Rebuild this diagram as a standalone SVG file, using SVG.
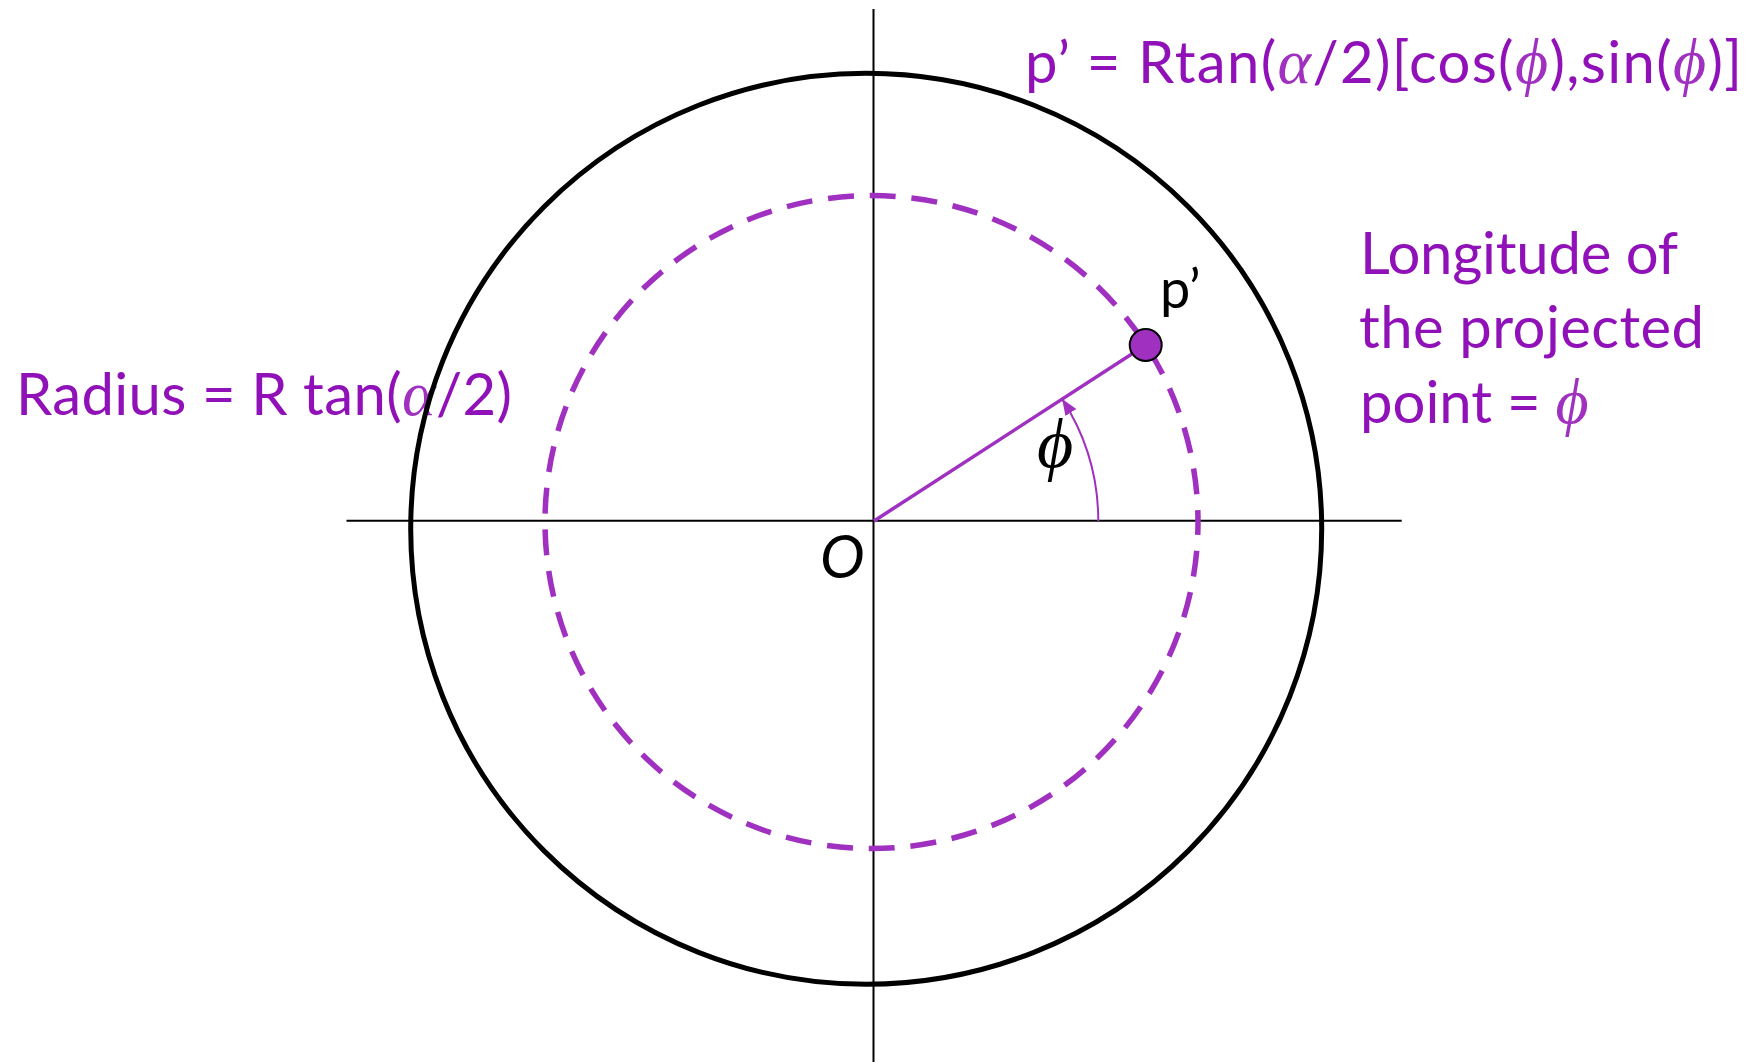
<svg xmlns="http://www.w3.org/2000/svg" width="1758" height="1062" viewBox="0 0 1758 1062">
<style>
.lbl{font-family:Lato,"Liberation Sans",sans-serif;font-size:58px;fill:#9111B9}
.gk{font-family:"Liberation Serif","DejaVu Serif",serif;font-style:italic;font-size:64px;fill:#A030C0}
.blk{font-family:Lato,"Liberation Sans",sans-serif;fill:#000}
.axis{stroke:#000;stroke-width:2;fill:none}
</style>
<defs>
<marker id="arr" markerUnits="userSpaceOnUse" markerWidth="16" markerHeight="13" refX="16" refY="6.5" orient="auto">
<path d="M0,0 L16,6.5 L0,13 z" fill="#A030C0"/>
</marker>
</defs>
<rect width="1758" height="1062" fill="#fff"/>
<g id="labels">
<text class="lbl" x="1025" y="83" textLength="717">p’ = Rtan(<tspan class="gk">α</tspan>/2)[cos(<tspan class="gk">ϕ</tspan>),sin(<tspan class="gk">ϕ</tspan>)]</text>
<text class="lbl" x="16" y="415" textLength="496">Radius = R tan(<tspan class="gk">α</tspan>/2)</text>
<text class="lbl" x="1360" y="274" textLength="318">Longitude of</text>
<text class="lbl" x="1359" y="348" textLength="345">the projected</text>
<text class="lbl" x="1360" y="423">point = <tspan class="gk">ϕ</tspan></text>
</g>
<g id="axes">
<line class="axis" x1="873.5" y1="9" x2="873.5" y2="1062"/>
<line class="axis" x1="346.5" y1="520.7" x2="1401.7" y2="520.7"/>
</g>
<g id="outer-circle">
<circle cx="866.2" cy="528.8" r="455.5" fill="none" stroke="#000" stroke-width="5"/>
</g>
<g id="projected-circle">
<circle cx="871.5" cy="522" r="326.5" fill="none" stroke="#A030C0" stroke-width="5.5" stroke-dasharray="26 15.87" stroke-dashoffset="13"/>
</g>
<g id="connectors">
<line x1="874" y1="521" x2="1145.7" y2="345" stroke="#A030C0" stroke-width="3.5"/>
<path d="M1098.3,521 A224.3,224.3 0 0 0 1062.2,399.1" fill="none" stroke="#A030C0" stroke-width="2" marker-end="url(#arr)"/>
</g>
<g id="point-p">
<circle cx="1145.7" cy="345" r="16" fill="#A030C0" stroke="#000" stroke-width="2"/>
<text class="blk" x="1160" y="308" font-size="54">p’</text>
</g>
<g id="origin">
<text class="blk" x="820" y="578" font-size="60" font-style="italic">O</text>
</g>
<g id="angle-label">
<text x="1037" y="467" font-family="'Liberation Serif','DejaVu Serif',serif" font-style="italic" font-size="70" fill="#000">ϕ</text>
</g>
</svg>
